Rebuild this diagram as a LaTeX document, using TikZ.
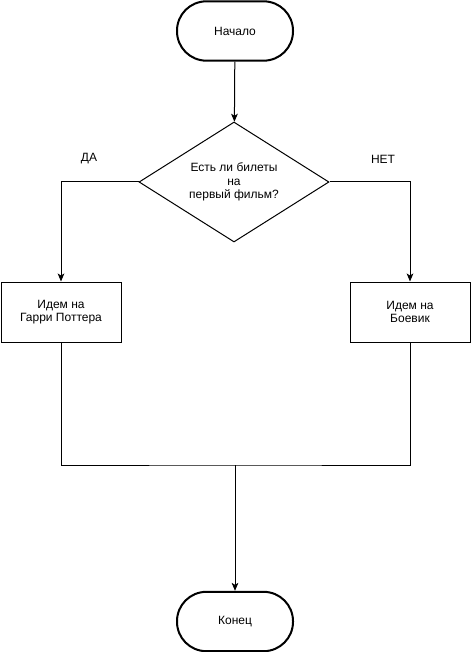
\documentclass[tikz,border=0pt]{standalone}
\usepackage{fontspec}
\setmainfont{Liberation Sans}
\usetikzlibrary{shapes.geometric, arrows.meta}

\begin{document}
\begin{tikzpicture}[x=0.75pt, y=-0.75pt, font=\fontsize{9}{10}\selectfont,
	term/.style={draw, line width=1.5pt, rounded corners=22pt, minimum width=87pt, minimum height=44.5pt},
	box/.style={draw, line width=0.75pt, minimum width=90pt, minimum height=45pt, align=center},
	ask/.style={draw, line width=0.75pt, shape=diamond, aspect=1.58, minimum width=142.5pt,
	minimum height=90pt, inner sep=0pt, align=center},
	arr/.style={line width=0.75pt, -{Stealth[length=6pt, width=5pt, inset=1.5pt]}}]
\useasboundingbox (0,0) rectangle (471,652);
\node[term] (start) at (235,31) {Начало};
\node[ask] (film) at (234,182) {Есть ли билеты\\на\\первый фильм?};
\node[box] (potter) at (61,312) {Идем на\\Гарри Поттера};
\node[box] (action) at (410,312) {Идем на\\Боевик};
\node[term] (stop) at (235,621.5) {Конец};
\coordinate (join) at (235,465);
\draw[arr] (start) -- (film);
\draw[arr] (film.west) -| (potter);
\draw[arr] (film.east) -| (action);
\node (yes) at (89,159) {ДА};
\node (no) at (383,159) {НЕТ};
\draw[line width=0.75pt] (potter.south) |- (join) -| (action.south);
\draw[arr] (join) -- (stop);
\end{tikzpicture}
\end{document}
